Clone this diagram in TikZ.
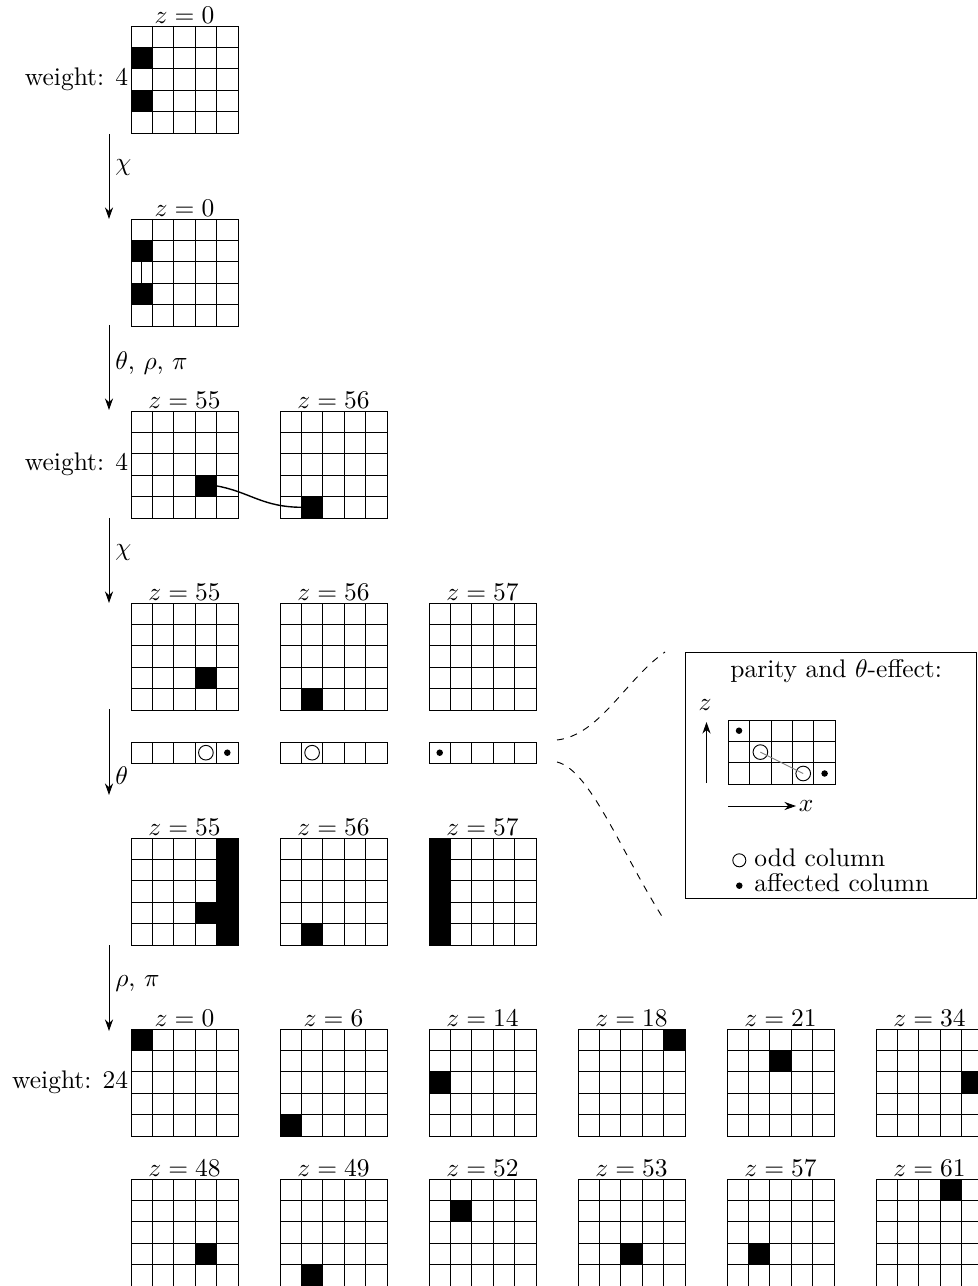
\documentclass[tikz,border=0pt,11pt]{standalone}
\usetikzlibrary{arrows.meta,positioning}

\tikzset{
  zlab/.style={anchor=south, inner sep=1pt},
  wlab/.style={anchor=east, inner sep=1pt},
  stepar/.style={-{Stealth[length=5pt,width=3.5pt]}},
  oplab/.style={right, inner sep=2.5pt},
  oddcol/.style={draw, circle, inner sep=0pt, minimum size=6.3pt},
  affcol/.style={fill, circle, inner sep=0pt, minimum size=2.8pt},
}

% one slice: name, left x, top y, z value, black cells col/row
\newcommand{\slice}[5]{%
  \coordinate (#1-nw) at (#2,#3);
  \coordinate (#1-w) at (#2,#3+53.5);
  \node[zlab] (#1-z) at (#2+53.5,#3) {$z = #4$};
  \foreach \c/\r in {#5} {\fill (#2+\c*21.4,#3+\r*21.4) rectangle ++(21.4,21.4);}
  \foreach \i in {1,...,4} {
    \draw (#2+\i*21.4,#3) -- ++(0,107);
    \draw (#2,#3+\i*21.4) -- ++(107,0);
  }
  \draw (#2,#3) rectangle ++(107,107);
}

% one parity row: name, left x, top y
\newcommand{\parity}[3]{%
  \coordinate (#1) at (#2,#3);
  \foreach \i in {1,...,4} {\draw (#2+\i*21.4,#3) -- ++(0,21.4);}
  \draw (#2,#3) rectangle ++(107,21.4);
}

\begin{document}
\begin{tikzpicture}[x=0.43pt, y=-0.43pt]
  \useasboundingbox (0,0) rectangle (977,1286);

  % start: weight 4
  \slice{a}{131}{26}{0}{0/1,0/3}
  \node[wlab] (wa) at (a-w) {weight: 4};

  % after chi
  \slice{b}{131}{219}{0}{0/1,0/3}
  \draw (131+10.7,219+42.8) -- ++(0,21.4);

  % after theta, rho, pi
  \slice{c1}{131}{411}{55}{3/3}
  \slice{c2}{280}{411}{56}{1/4}
  \node[wlab] (wc) at (c1-w) {weight: 4};
  \coordinate (lk1) at (131+4*21.4,411+3.5*21.4);
  \coordinate (lk2) at (280+21.4,411+4.5*21.4);
  \draw[semithick] (lk1) .. controls (250,492) and (262,507) .. (lk2);

  % after chi
  \slice{d1}{131}{603}{55}{3/3}
  \slice{d2}{280}{603}{56}{1/4}
  \slice{d3}{429}{603}{57}{}

  % column parities
  \parity{p1}{131}{742}
  \parity{p2}{280}{742}
  \parity{p3}{429}{742}
  \node[oddcol] (p1o) at (131+3.5*21.4,752.7) {};
  \node[affcol] (p1a) at (131+4.5*21.4,752.7) {};
  \node[oddcol] (p2o) at (280+1.5*21.4,752.7) {};
  \node[affcol] (p3a) at (429+0.5*21.4,752.7) {};

  % after theta
  \slice{e1}{131}{838}{55}{4/0,4/1,4/2,4/3,4/4,3/3}
  \slice{e2}{280}{838}{56}{1/4}
  \slice{e3}{429}{838}{57}{0/0,0/1,0/2,0/3,0/4}

  % after rho, pi: weight 24
  \slice{f1}{131}{1029}{0}{0/0}
  \slice{f2}{280}{1029}{6}{0/4}
  \slice{f3}{429}{1029}{14}{0/2}
  \slice{f4}{578}{1029}{18}{4/0}
  \slice{f5}{727}{1029}{21}{2/1}
  \slice{f6}{876}{1029}{34}{4/2}
  \node[wlab] (wf) at (f1-w) {weight: 24};
  \slice{g1}{131}{1179}{48}{3/3}
  \slice{g2}{280}{1179}{49}{1/4}
  \slice{g3}{429}{1179}{52}{1/1}
  \slice{g4}{578}{1179}{53}{2/3}
  \slice{g5}{727}{1179}{57}{1/3}
  \slice{g6}{876}{1179}{61}{3/0}

  % step arrows
  \coordinate (s1a) at (109,134);  \coordinate (s1b) at (109,219);
  \coordinate (s2a) at (109,325);  \coordinate (s2b) at (109,410);
  \coordinate (s3a) at (109,518);  \coordinate (s3b) at (109,603);
  \coordinate (s4a) at (109,709);  \coordinate (s4b) at (109,795);
  \coordinate (s5a) at (109,945);  \coordinate (s5b) at (109,1031);
  \draw[stepar] (s1a) -- (s1b) node[oplab, pos=0.4] (o1) {$\chi$};
  \draw[stepar] (s2a) -- (s2b) node[oplab, pos=0.45] (o2) {$\theta$, $\rho$, $\pi$};
  \draw[stepar] (s3a) -- (s3b) node[oplab, pos=0.41] (o3) {$\chi$};
  \draw[stepar] (s4a) -- (s4b) node[oplab, pos=0.78] (o4) {$\theta$};
  \draw[stepar] (s5a) -- (s5b) node[oplab, pos=0.45] (o5) {$\rho$, $\pi$};

  % zoom lines to the legend
  \draw[dashed] (557,740) .. controls (600,735) and (625,680) .. (665,652);
  \draw[dashed] (557,762) .. controls (590,770) and (620,850) .. (663,918);

  % legend
  \draw (685,652) rectangle (976,898);
  \node[anchor=base west, inner sep=0pt] (lt) at (730,677) {parity and $\theta$-effect:};
  \foreach \i in {1,...,4} {\draw (728.3+\i*21.4,720) -- ++(0,64.2);}
  \foreach \i in {1,2} {\draw (728.3,720+\i*21.4) -- ++(107,0);}
  \draw (728.3,720) rectangle ++(107,64.2);
  \node[affcol] (la1) at (728.3+0.5*21.4,730.7) {};
  \node[oddcol] (lo1) at (728.3+1.5*21.4,752.1) {};
  \node[oddcol] (lo2) at (728.3+3.5*21.4,773.5) {};
  \node[affcol] (la2) at (728.3+4.5*21.4,773.5) {};
  \draw[gray] (lo1.center) -- (lo2.center);
  \coordinate (zb) at (706.5,783);
  \coordinate (zt) at (706.5,722);
  \draw[stepar] (zb) -- (zt);
  \node (zl) at (705,705) {$z$};
  \coordinate (xl0) at (728,806);
  \draw[stepar] (xl0) -- ++(68,0) node[right, inner sep=1pt] (xl) {$x$};
  \node[oddcol, minimum size=5.6pt] (lko) at (739.3,860.3) {};
  \node[anchor=base west, inner sep=0pt] (lkot) at (754,866.7) {odd column};
  \node[affcol] (lka) at (739.3,885.7) {};
  \node[anchor=base west, inner sep=0pt] (lkat) at (754,891.7) {affected column};
\end{tikzpicture}
\end{document}
